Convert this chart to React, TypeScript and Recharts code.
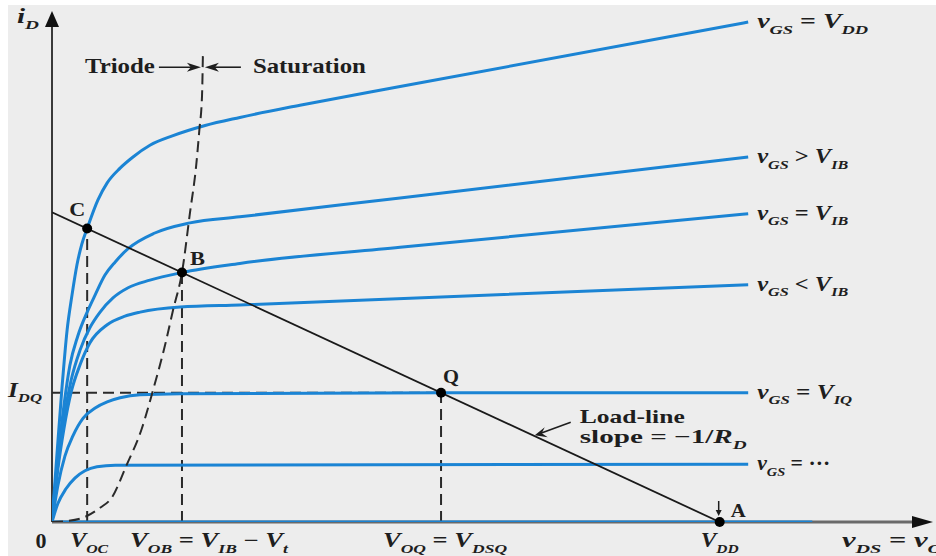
import { ComposedChart, Line, XAxis, YAxis, ReferenceLine, ReferenceDot } from 'recharts'

// axes: vDS in volts, iD in mA
const VDS_MAX = 19.5
const ID_TOP = 10
const VDD = 15
const ID_SHORT = 6.11 // load line meets the iD axis here

// output characteristics, one array per gate voltage: [vDS, iD]
const VGS_VDD = [[0, 0], [0.11, 1.32], [0.22, 2.6], [0.34, 3.79], [0.45, 4.48], [0.56, 5.07], [0.67, 5.48], [0.79, 5.79], [1.03, 6.35], [1.24, 6.69], [1.53, 6.98], [1.82, 7.2], [2.2, 7.43], [2.72, 7.62], [3.44, 7.82], [4.22, 7.98], [5.57, 8.22], [7.82, 8.59], [15.64, 9.86]]
const VGS_ABOVE = [[0, 0], [0.13, 1.26], [0.27, 2.31], [0.4, 3.08], [0.58, 3.67], [0.79, 4.14], [0.97, 4.48], [1.19, 4.87], [1.42, 5.13], [1.71, 5.39], [2.31, 5.7], [3.1, 5.9], [4.22, 6.02], [7.82, 6.39], [15.64, 7.2]]
const VGS_IB = [[0, 0], [0.13, 1.12], [0.27, 2.05], [0.43, 2.8], [0.63, 3.39], [0.85, 3.83], [1.08, 4.14], [1.37, 4.42], [1.71, 4.62], [2.2, 4.77], [2.92, 4.92], [4.22, 5.1], [7.82, 5.42], [15.64, 6.08]]
const VGS_BELOW = [[0, 0], [0.13, 1.03], [0.27, 1.85], [0.43, 2.56], [0.63, 3.1], [0.85, 3.53], [1.24, 3.89], [1.64, 4.06], [1.98, 4.14], [2.88, 4.24], [4.22, 4.28], [15.64, 4.68]]
const VGS_IQ = [[0, 0], [0.13, 0.71], [0.29, 1.3], [0.47, 1.7], [0.7, 2.05], [0.97, 2.25], [1.24, 2.37], [1.53, 2.45], [1.98, 2.51], [2.88, 2.53], [8.74, 2.55], [15.64, 2.55]]
const VGS_LOW = [[0, 0], [0.13, 0.36], [0.31, 0.65], [0.52, 0.87], [0.74, 1.01], [1.01, 1.09], [1.42, 1.12], [15.64, 1.14]]
const VGS_OFF = [[0, 0], [17.08, 0]]

// triode / saturation boundary
const SAT_EDGE = [[0, 0], [0.36, 0.02], [0.74, 0.1], [1.08, 0.28], [1.35, 0.49], [1.66, 1.09], [2.02, 1.85], [2.27, 2.6], [2.54, 3.49], [2.72, 4.18], [2.92, 4.92], [3.1, 6.1], [3.24, 7.04], [3.31, 7.73], [3.37, 8.4], [3.39, 9.21]]

const PT_C = [0.79, 5.79]
const PT_B = [2.92, 4.92]
const PT_Q = [8.74, 2.55]
const PT_A = [VDD, 0]

type Part = [string, string?]

const LABEL_VDD: Part[] = [['v', 'i'], ['GS', 's'], ['\u00a0=\u00a0'], ['V', 'i'], ['DD', 's']]
const LABEL_ABOVE: Part[] = [['v', 'i'], ['GS', 's'], ['\u00a0>\u00a0'], ['V', 'i'], ['IB', 's']]
const LABEL_IB: Part[] = [['v', 'i'], ['GS', 's'], ['\u00a0=\u00a0'], ['V', 'i'], ['IB', 's']]
const LABEL_BELOW: Part[] = [['v', 'i'], ['GS', 's'], ['\u00a0<\u00a0'], ['V', 'i'], ['IB', 's']]
const LABEL_IQ: Part[] = [['v', 'i'], ['GS', 's'], ['\u00a0=\u00a0'], ['V', 'i'], ['IQ', 's']]
const LABEL_LOW: Part[] = [['v', 'i'], ['GS', 's'], ['\u00a0=\u00a0'], ['\u00b7\u00b7\u00b7']]

const BLUE = '#1b84d4'
const INK = '#1e1e1e'
const FONT = 'Liberation Serif'

const xy = (pts: number[][]) => pts.map(([x, y]) => ({ x, y }))

function Rich({ x, y, parts, size = 20, anchor = 'start', width }: { x: number; y: number; parts: Part[]; size?: number; anchor?: string; width?: number }) {
  let prevSub = false
  const shift = size * 0.28
  return (
    <text x={x} y={y} textAnchor={anchor as any} style={{ fontFamily: FONT, fontWeight: 700 }} fill={INK} fontSize={size}
      textLength={width} lengthAdjust={width ? 'spacingAndGlyphs' : undefined}>
      {parts.map(([t, k], i) => {
        const sub = k === 's'
        const dy = sub && !prevSub ? shift : !sub && prevSub ? -shift : 0
        prevSub = sub
        return (
          <tspan key={i} dy={dy || undefined} fontStyle={k === 'i' || sub ? 'italic' : 'normal'} fontSize={sub ? size * 0.66 : size}>{t}</tspan>
        )
      })}
    </text>
  )
}

function tag(key: string, at: number[], dx: number, dy: number, parts: Part[], width?: number, anchor = 'start', size = 20) {
  return (
    <ReferenceDot key={key} x={at[0]} y={at[1]} r={1}
      shape={(p: any) => <Rich x={p.cx + dx} y={p.cy + dy} parts={parts} width={width} anchor={anchor} size={size} />} />
  )
}

const CURVES = [
  { key: 'vdd', pts: VGS_VDD, label: LABEL_VDD, w: 111 },
  { key: 'above', pts: VGS_ABOVE, label: LABEL_ABOVE, w: 91 },
  { key: 'ib', pts: VGS_IB, label: LABEL_IB, w: 91 },
  { key: 'below', pts: VGS_BELOW, label: LABEL_BELOW, w: 91 },
  { key: 'iq', pts: VGS_IQ, label: LABEL_IQ, w: 95 },
  { key: 'low', pts: VGS_LOW, label: LABEL_LOW, w: 73 },
]

const dash = { stroke: '#2a2a2a', strokeWidth: 2, strokeDasharray: '11 6' }

export default function App() {
  return (
    <div style={{ position: 'absolute', left: 0, top: 0, width: 936, height: 556, background: '#fff' }}>
      <div style={{ position: 'absolute', left: 8, top: 5, right: 0, bottom: 0, background: '#ededed' }} />
      <div style={{ position: 'absolute', left: 0, top: 0 }}>
        <ComposedChart width={936} height={556} margin={{ top: 15, right: 16, bottom: 34, left: 52 }}>
          <XAxis type="number" dataKey="x" domain={[0, VDS_MAX]} allowDataOverflow hide />
          <YAxis type="number" dataKey="y" domain={[0, ID_TOP]} allowDataOverflow hide />

          {/* axes with arrow heads */}
          <ReferenceLine segment={[{ x: 0, y: 0 }, { x: 0, y: ID_TOP }]} stroke="#3a3a3a" strokeWidth={2} />
          <ReferenceLine segment={[{ x: 0, y: 0 }, { x: VDS_MAX, y: 0 }]} stroke="#6a6a6a" strokeWidth={3} />
          <ReferenceDot x={0} y={ID_TOP} r={1}
            shape={(p: any) => <polygon points={`${p.cx},${p.cy - 4} ${p.cx - 7},${p.cy + 12} ${p.cx + 7},${p.cy + 12}`} fill="#111" />} />
          <ReferenceDot x={VDS_MAX} y={0} r={1}
            shape={(p: any) => <polygon points={`${p.cx + 13},${p.cy} ${p.cx - 8},${p.cy - 6} ${p.cx - 8},${p.cy + 6}`} fill="#111" />} />

          {/* projections of the operating points */}
          <ReferenceLine segment={[{ x: PT_C[0], y: 0 }, { x: PT_C[0], y: PT_C[1] }]} {...dash} />
          <ReferenceLine segment={[{ x: PT_B[0], y: 0 }, { x: PT_B[0], y: PT_B[1] }]} {...dash} />
          <ReferenceLine segment={[{ x: PT_Q[0], y: 0 }, { x: PT_Q[0], y: PT_Q[1] }]} {...dash} />
          <ReferenceLine segment={[{ x: 0, y: PT_Q[1] }, { x: PT_Q[0], y: PT_Q[1] }]} {...dash} />

          <Line data={xy(VGS_OFF)} dataKey="y" stroke={BLUE} strokeWidth={3} dot={false} activeDot={false} isAnimationActive={false} />
          {CURVES.map(c => (
            <Line key={c.key} data={xy(c.pts)} dataKey="y" type="monotone" stroke={BLUE} strokeWidth={3}
              dot={false} activeDot={false} isAnimationActive={false} />
          ))}

          <Line data={xy(SAT_EDGE)} dataKey="y" type="monotone" {...dash} dot={false} activeDot={false} isAnimationActive={false} />

          {/* load line */}
          <Line data={xy([[0, ID_SHORT], [VDD, 0]])} dataKey="y" stroke="#1a1a1a" strokeWidth={1.8} dot={false} activeDot={false} isAnimationActive={false} />

          {[PT_C, PT_B, PT_Q, PT_A].map((p, i) => (
            <ReferenceDot key={'pt' + i} x={p[0]} y={p[1]} r={5} fill="#000" stroke="none" />
          ))}

          {CURVES.map(c => tag('lab-' + c.key, c.pts[c.pts.length - 1], 9, 6, c.label, c.w))}

          {tag('id', [0, ID_TOP], -35, 8, [['i', 'i'], ['D', 's']], 22)}
          {tag('idq', [0, PT_Q[1]], -44, 4, [['I', 'i'], ['DQ', 's']], 34)}
          {tag('zero', [0, 0], -11, 26, [['0']], 11, 'middle')}
          {tag('voc', [PT_C[0], 0], 2, 25, [['V', 'i'], ['OC', 's']], 38, 'middle')}
          {tag('vob', [PT_B[0], 0], -52, 25, [['V', 'i'], ['OB', 's'], ['\u00a0=\u00a0'], ['V', 'i'], ['IB', 's'], ['\u00a0\u2212\u00a0'], ['V', 'i'], ['t', 's']], 158)}
          {tag('voq', [PT_Q[0], 0], -58, 25, [['V', 'i'], ['OQ', 's'], ['\u00a0=\u00a0'], ['V', 'i'], ['DSQ', 's']], 124)}
          {tag('vdd', PT_A, 0, 25, [['V', 'i'], ['DD', 's']], 38, 'middle')}
          {tag('vds', [VDS_MAX, 0], -78, 25, [['v', 'i'], ['DS', 's'], ['\u00a0=\u00a0'], ['v', 'i'], ['O', 's']], 100)}

          {tag('c', PT_C, -18, -12, [['C']], 16, 'start', 19)}
          {tag('b', PT_B, 8, -8, [['B']], 15, 'start', 19)}
          {tag('q', PT_Q, 2, -10, [['Q']], 16, 'start', 19)}

          {/* A marker */}
          <ReferenceDot x={PT_A[0]} y={PT_A[1]} r={1} shape={(p: any) => (
            <g>
              <line x1={p.cx - 1} y1={p.cy - 21} x2={p.cx - 1} y2={p.cy - 9} stroke={INK} strokeWidth={1.5} />
              <polygon points={`${p.cx - 1},${p.cy - 6} ${p.cx - 4},${p.cy - 12} ${p.cx + 2},${p.cy - 12}`} fill={INK} />
              <Rich x={p.cx + 11} y={p.cy - 5} parts={[['A']]} size={19} width={15} />
            </g>
          )} />

          {/* triode / saturation marker at the top of the boundary */}
          <ReferenceDot x={SAT_EDGE[SAT_EDGE.length - 1][0]} y={8.97} r={1} shape={(p: any) => (
            <g>
              <line x1={p.cx - 44} y1={p.cy} x2={p.cx - 10} y2={p.cy} stroke={INK} strokeWidth={1.6} />
              <polygon points={`${p.cx - 2},${p.cy} ${p.cx - 16},${p.cy - 4.5} ${p.cx - 12},${p.cy} ${p.cx - 16},${p.cy + 4.5}`} fill={INK} />
              <line x1={p.cx + 10} y1={p.cy} x2={p.cx + 38} y2={p.cy} stroke={INK} strokeWidth={1.6} />
              <polygon points={`${p.cx + 2},${p.cy} ${p.cx + 16},${p.cy - 4.5} ${p.cx + 12},${p.cy} ${p.cx + 16},${p.cy + 4.5}`} fill={INK} />
              <Rich x={p.cx - 118} y={p.cy + 6} parts={[['Triode']]} width={70} />
              <Rich x={p.cx + 50} y={p.cy + 6} parts={[['Saturation']]} width={113} />
            </g>
          )} />

          {/* load line callout */}
          <ReferenceDot x={10.8} y={1.71} r={1} shape={(p: any) => (
            <g>
              <line x1={p.cx + 38} y1={p.cy - 13} x2={p.cx + 8} y2={p.cy - 2} stroke={INK} strokeWidth={1.6} />
              <polygon points={`${p.cx + 2},${p.cy} ${p.cx + 12},${p.cy - 8} ${p.cx + 9},${p.cy - 2} ${p.cx + 15},${p.cy + 2}`} fill={INK} />
              <Rich x={p.cx + 47} y={p.cy - 12} parts={[['Load-line']]} width={105} size={19} />
              <Rich x={p.cx + 47} y={p.cy + 8} parts={[['slope\u00a0=\u00a0\u22121/'], ['R', 'i'], ['D', 's']]} width={167} size={19} />
            </g>
          )} />
        </ComposedChart>
      </div>
    </div>
  )
}
